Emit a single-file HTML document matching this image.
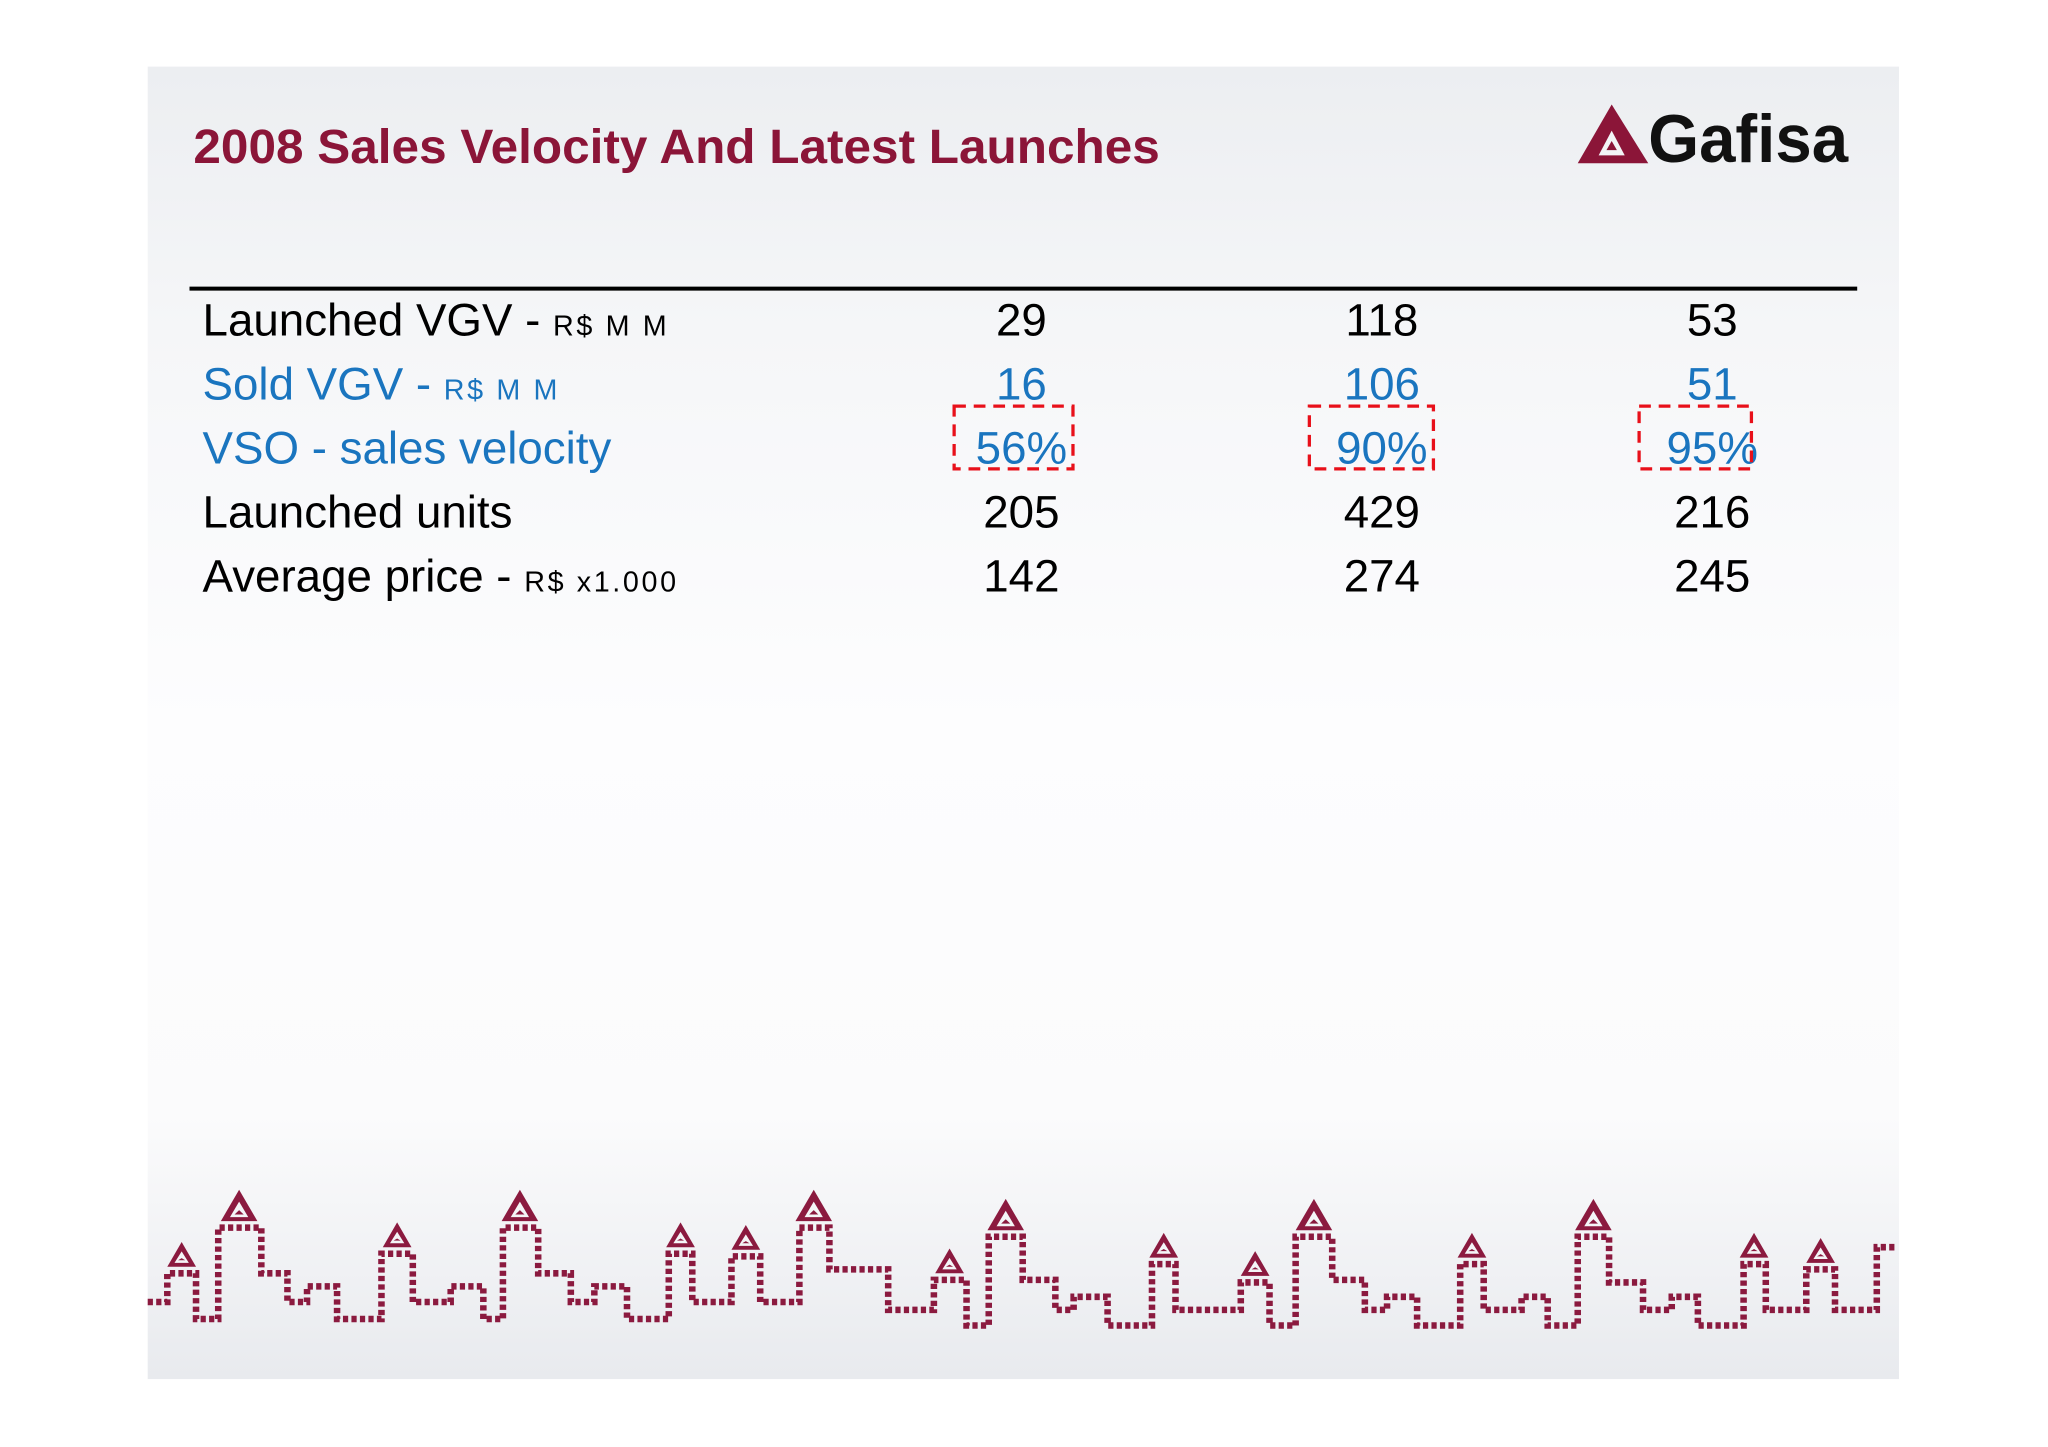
<!DOCTYPE html>
<html><head><meta charset="utf-8"><style>
html,body{margin:0;padding:0;background:#fff;}
svg{display:block;}
</style></head><body>
<svg id="slide" width="2048" height="1447" viewBox="0 0 1568 1108" xmlns="http://www.w3.org/2000/svg">
<defs>
<linearGradient id="bg" x1="0" y1="0" x2="0" y2="1">
<stop offset="0" stop-color="#eceef1"/><stop offset="0.2" stop-color="#f5f6f8"/><stop offset="0.5" stop-color="#fdfdfe"/><stop offset="0.8" stop-color="#fbfbfc"/><stop offset="1" stop-color="#e8eaee"/>
</linearGradient>
</defs>
<rect x="113" y="51" width="1341" height="1005" fill="url(#bg)"/>
<text x="148" y="125" font-family="Liberation Sans, sans-serif" font-weight="bold" font-size="37" fill="#8b1538" textLength="740" lengthAdjust="spacingAndGlyphs">2008 Sales Velocity And Latest Launches</text>
<g>
<polygon points="1208,125 1234,80 1262,125" fill="#8b1538"/>
<polygon points="1224,119 1234,100 1244,119" fill="#f3f4f6"/>
<polygon points="1230,115 1234,108 1238,115" fill="#8b1538"/>
<text x="1262" y="124" font-family="Liberation Sans, sans-serif" font-weight="bold" font-size="52" fill="#111" textLength="153" lengthAdjust="spacingAndGlyphs">Gafisa</text>
</g>
<line x1="145" y1="221" x2="1422" y2="221" stroke="#000" stroke-width="3"/>
<g id="table"></g>
<g id="boxes"></g>
<g id="skyline"></g>
</svg>
<script>
const rowLabels = ["Launched VGV - ", "Sold VGV - ", "VSO - sales velocity", "Launched units", "Average price - "];
const rowUnits = ["R$ M M", "R$ M M", "", "", "R$ x1.000"];
const col1 = ["29", "16", "56%", "205", "142"];
const col2 = ["118", "106", "90%", "429", "274"];
const col3 = ["53", "51", "95%", "216", "245"];
const rowColors = ["#000", "#1a75bf", "#1a75bf", "#000", "#000"];
const highlightRow = 2;

const NS = "http://www.w3.org/2000/svg";
const table = document.getElementById('table');
const colX = [782, 1058, 1311];
const rowY = i => 257 + i * 49;
const cols = [col1, col2, col3];
rowLabels.forEach((lab, i) => {
  const t = document.createElementNS(NS, 'text');
  
  
  t.setAttribute('x', 155); t.setAttribute('y', rowY(i));
  t.setAttribute('font-family', 'Liberation Sans, sans-serif');
  t.setAttribute('font-size', 35); t.setAttribute('fill', rowColors[i]);
  t.textContent = lab;
  if (rowUnits[i]) {
    const s = document.createElementNS(NS, 'tspan');
    s.setAttribute('font-size', 22);
    s.setAttribute('letter-spacing', 2);
    s.textContent = rowUnits[i];
    t.appendChild(s);
  }
  table.appendChild(t);
  cols.forEach((c, j) => {
    const v = document.createElementNS(NS, 'text');
    
    
    v.setAttribute('x', colX[j]); v.setAttribute('y', rowY(i));
    v.setAttribute('text-anchor', 'middle');
    v.setAttribute('font-family', 'Liberation Sans, sans-serif');
    v.setAttribute('font-size', 35); v.setAttribute('fill', rowColors[i]);
    v.textContent = c[i];
    table.appendChild(v);
  });
});
const boxes = document.getElementById('boxes');
const boxW = [91, 95, 86];
const boxOff = [-6, -8, -13];
colX.forEach((x, j) => {
  const r = document.createElementNS(NS, 'rect');
  
  
  r.setAttribute('x', x + boxOff[j] - boxW[j] / 2); r.setAttribute('y', rowY(highlightRow) - 44);
  r.setAttribute('width', boxW[j]); r.setAttribute('height', 48);
  r.setAttribute('fill', 'none'); r.setAttribute('stroke', '#e8101a');
  r.setAttribute('stroke-width', 2.5); r.setAttribute('stroke-dasharray', '9 6');
  boxes.appendChild(r);
});
const sky = document.getElementById('skyline');
const pts = "113,997 128,997 128,975 150,975 150,1010 167,1010 167,940 200,940 200,975 220,975 220,997 235,997 235,985 258,985 258,1010 292,1010 292,960 316,960 316,997 345,997 345,985 370,985 370,1010 385,1010 385,940 412,940 412,975 437,975 437,997 455,997 455,985 480,985 480,1010 512,1010 512,960 530,960 530,997 560,997 560,962 582,962 582,997 612,997 612,940 635,940 635,972 680,972 680,1003 715,1003 715,980 740,980 740,1015 757,1015 757,947 783,947 783,980 808,980 808,1003 822,1003 822,993 848,993 848,1015 882,1015 882,968 900,968 900,1003 950,1003 950,982 972,982 972,1015 992,1015 992,947 1020,947 1020,980 1045,980 1045,1003 1062,1003 1062,993 1085,993 1085,1015 1118,1015 1118,968 1136,968 1136,1003 1165,1003 1165,993 1185,993 1185,1015 1208,1015 1208,947 1232,947 1232,982 1258,982 1258,1003 1280,1003 1280,993 1300,993 1300,1015 1335,1015 1335,968 1352,968 1352,1003 1383,1003 1383,972 1405,972 1405,1003 1437,1003 1437,955 1452,955";
const pl = document.createElementNS(NS, 'polyline');


pl.setAttribute('points', pts); pl.setAttribute('fill', 'none');
pl.setAttribute('stroke', '#8b1a3f'); pl.setAttribute('stroke-width', 5);
pl.setAttribute('stroke-dasharray', '4 2.5');
sky.appendChild(pl);
const peaks = [[139,975,0],[183,940,1],[304,960,0],[398,940,1],[521,960,0],[571,962,0],[623,940,1],[727,980,0],[770,947,1],[891,968,0],[961,982,0],[1006,947,1],[1127,968,0],[1220,947,1],[1343,968,0],[1394,972,0]];
peaks.forEach(p => {
  const h = p[2] ? 24 : 19, w = p[2] ? 28 : 22, x = p[0], y = p[1] - 5;
  const g = document.createElementNS(NS, 'g');
  
  
  g.innerHTML = `<polygon points="${x-w/2},${y} ${x},${y-h} ${x+w/2},${y}" fill="#8b1a3f"/><polygon points="${x-w/4},${y-3} ${x},${y-h*0.62} ${x+w/4},${y-3}" fill="#f4f5f7"/><polygon points="${x-w/8},${y-5} ${x},${y-h*0.35} ${x+w/8},${y-5}" fill="#8b1a3f"/>`;
  sky.appendChild(g);
});
</script>
</body></html>
